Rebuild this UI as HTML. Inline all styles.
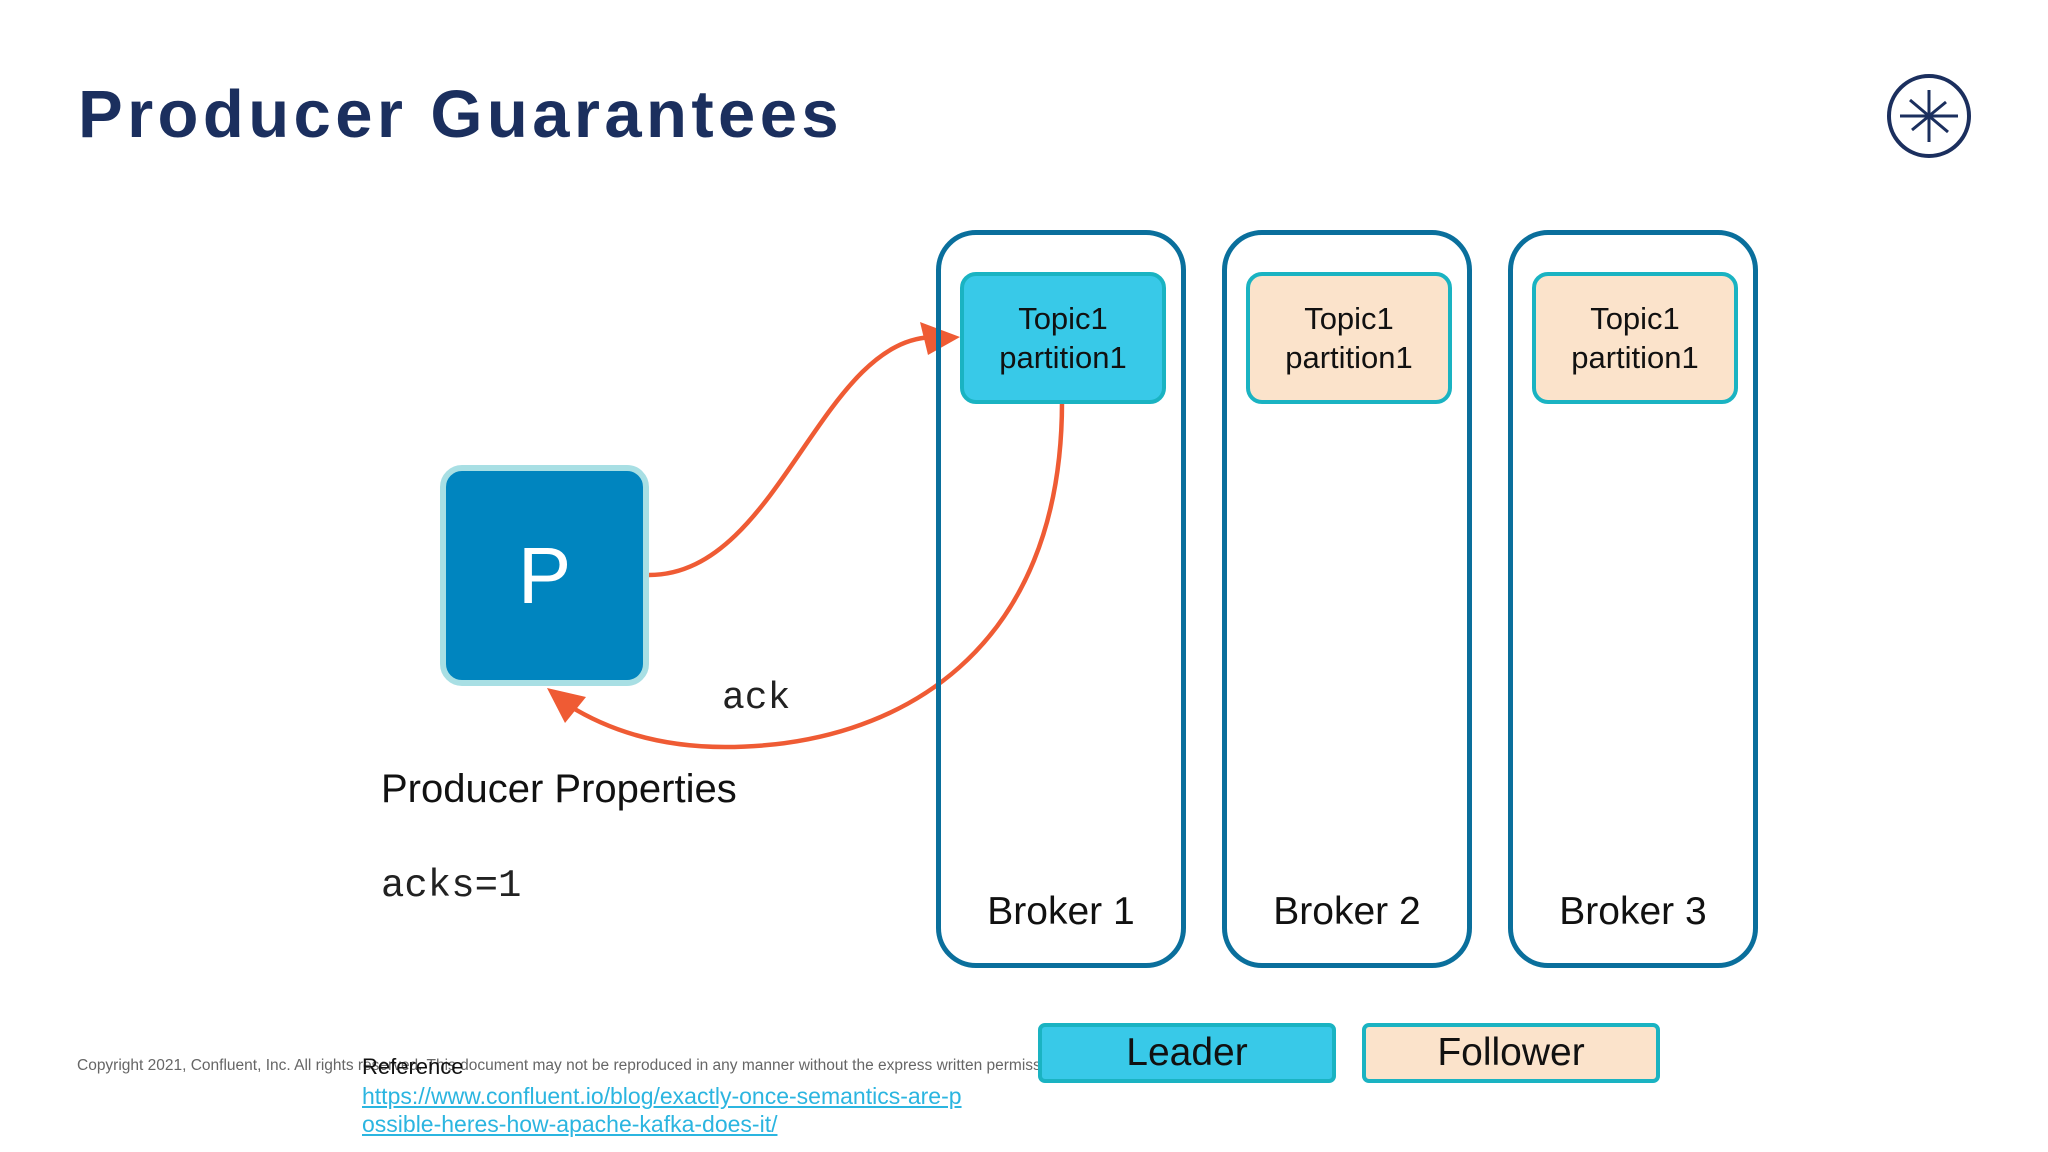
<!DOCTYPE html>
<html><head><meta charset="utf-8"><style>
html,body{margin:0;padding:0;background:#fff;}
body{width:2048px;height:1152px;position:relative;overflow:hidden;font-family:"Liberation Sans",sans-serif;}
.a{position:absolute;}
.broker{position:absolute;top:230px;width:240px;height:728px;border:5px solid #0a6f9c;border-radius:40px;}
.part{position:absolute;top:272px;width:198px;height:124px;border:4px solid #1ab3c2;border-radius:16px;text-align:center;font-size:31px;line-height:39px;display:flex;flex-direction:column;justify-content:center;color:#111;}
.bl{position:absolute;top:890px;width:250px;text-align:center;font-size:39px;color:#111;}
.leg{position:absolute;top:1023px;width:290px;height:52px;border:4px solid #1ab3c2;border-radius:7px;text-align:center;font-size:39px;line-height:52px;color:#111;}
</style></head><body>
<div class="a" style="left:78px;top:76px;font-size:67px;font-weight:bold;color:#1b2f5e;letter-spacing:4.4px;">Producer Guarantees</div>
<svg class="a" style="left:0;top:0" width="2048" height="1152">
<circle cx="1929" cy="116" r="40" fill="none" stroke="#1b2f5e" stroke-width="4"/>
<g stroke="#1b2f5e" stroke-width="3">
<line x1="1900" y1="116" x2="1958" y2="116"/><line x1="1929" y1="90" x2="1929" y2="142"/>
<line x1="1910" y1="100" x2="1948" y2="132"/><line x1="1912" y1="130" x2="1946" y2="102"/>
</g>
<path d="M649,575 C780,575 820,337 935,337" fill="none" stroke="#ef5b34" stroke-width="4.5"/>
<polygon points="960,337 920,322 928,355" fill="#ef5b34"/>
<path d="M1062,402 C1062,650 900,747 725,747 C650,747 600,725 568,705" fill="none" stroke="#ef5b34" stroke-width="4.5"/>
<polygon points="547,688 586,697 565,723" fill="#ef5b34"/>
</svg>
<div class="a" style="left:440px;top:465px;width:197px;height:209px;border:6px solid #a8dfe4;border-radius:22px;background:#0085bf;color:#fff;font-size:80px;text-align:center;line-height:209px;">P</div>
<div class="broker" style="left:936px"></div>
<div class="broker" style="left:1222px"></div>
<div class="broker" style="left:1508px"></div>
<div class="part" style="left:960px;background:#38c9e8">Topic1<br>partition1</div>
<div class="part" style="left:1246px;background:#fbe3cb">Topic1<br>partition1</div>
<div class="part" style="left:1532px;background:#fbe3cb">Topic1<br>partition1</div>
<div class="bl" style="left:936px">Broker 1</div>
<div class="bl" style="left:1222px">Broker 2</div>
<div class="bl" style="left:1508px">Broker 3</div>
<div class="a" style="left:722px;top:677px;font-family:'Liberation Mono',monospace;font-size:38px;color:#222;">ack</div>
<div class="a" style="left:381px;top:767px;font-size:40px;color:#111;">Producer Properties</div>
<div class="a" style="left:381px;top:864px;font-family:'Liberation Mono',monospace;font-size:39px;color:#222;">acks=1</div>
<div class="a" style="left:77px;top:1057px;font-size:15.5px;color:#666;white-space:nowrap;width:961px;overflow:hidden;">Copyright 2021, Confluent, Inc. All rights reserved. This document may not be reproduced in any manner without the express written permission</div>
<div class="leg" style="left:1038px;background:#38c9e8">Leader</div>
<div class="leg" style="left:1362px;background:#fbe3cb">Follower</div>
<div class="a" style="left:362px;top:1054px;font-size:22px;color:#111;">Reference</div>
<div class="a" style="left:362px;top:1082px;font-size:23px;line-height:28px;color:#2bb5e0;text-decoration:underline;">https://www.confluent.io/blog/exactly-once-semantics-are-p<br>ossible-heres-how-apache-kafka-does-it/</div>
</body></html>
